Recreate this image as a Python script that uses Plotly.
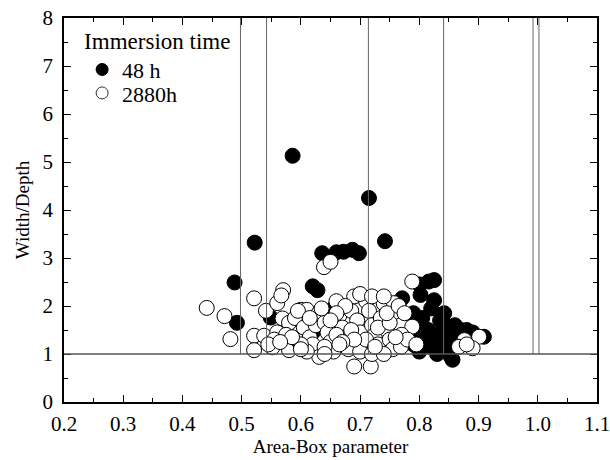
import plotly.graph_objects as go

# 48 h immersion (filled circles)
x_48h = [0.586, 0.715, 0.742, 0.522, 0.488, 0.492, 0.549, 0.620, 0.628,
         0.636, 0.660, 0.672, 0.687, 0.698, 0.655, 0.700, 0.620,
         0.771, 0.800, 0.802, 0.816, 0.825, 0.825, 0.820, 0.842, 0.835,
         0.845, 0.800, 0.790, 0.790, 0.810, 0.820, 0.830, 0.850, 0.860,
         0.870, 0.880, 0.856, 0.853, 0.840, 0.860, 0.870, 0.909, 0.890,
         0.800, 0.780, 0.775, 0.790, 0.815, 0.850, 0.830, 0.805, 0.812]
y_48h = [5.13, 4.25, 3.35, 3.32, 2.49, 1.65, 1.76, 2.41, 2.33,
         3.10, 3.12, 3.13, 3.17, 3.10, 1.95, 1.40, 1.45,
         2.16, 2.45, 2.23, 2.51, 2.54, 2.12, 1.95, 1.85, 1.70,
         1.60, 1.65, 1.40, 1.20, 1.30, 1.15, 1.40, 1.45, 1.60,
         1.50, 1.50, 0.88, 0.95, 1.20, 1.25, 1.40, 1.36, 1.45,
         1.05, 1.25, 1.60, 1.85, 1.50, 1.10, 1.00, 1.75, 1.35]

# 2880 h immersion (open circles)
x_2880h = [0.441, 0.471, 0.481, 0.521, 0.521, 0.521, 0.541, 0.538, 0.552,
           0.560, 0.570, 0.567, 0.569, 0.580, 0.588, 0.594, 0.600, 0.580,
           0.560, 0.555, 0.575, 0.590, 0.610, 0.605, 0.615, 0.620, 0.631,
           0.610, 0.600, 0.625, 0.630, 0.640, 0.645, 0.650, 0.639, 0.650,
           0.660, 0.665, 0.670, 0.675, 0.680, 0.655, 0.685, 0.690, 0.695,
           0.700, 0.705, 0.710, 0.715, 0.720, 0.725, 0.730, 0.735, 0.740,
           0.745, 0.750, 0.755, 0.757, 0.760, 0.769, 0.769, 0.788, 0.788,
           0.690, 0.718, 0.675, 0.700, 0.720, 0.740, 0.660, 0.640, 0.685,
           0.710, 0.730, 0.750, 0.745, 0.770, 0.780, 0.765, 0.700, 0.720,
           0.740, 0.690, 0.660, 0.635, 0.595, 0.585, 0.615, 0.650, 0.670,
           0.725, 0.760, 0.775, 0.795, 0.545, 0.565, 0.600, 0.640, 0.665,
           0.876, 0.901, 0.890, 0.867, 0.880]
y_2880h = [1.96, 1.79, 1.31, 2.16, 1.38, 1.08, 1.90, 1.38, 1.14,
           2.06, 2.33, 2.22, 1.74, 1.08, 1.53, 1.29, 1.92, 1.65,
           1.45, 1.30, 1.40, 1.75, 1.92, 1.55, 1.35, 1.20, 0.94,
           1.05, 1.20, 1.60, 1.85, 1.65, 1.45, 1.25, 2.81, 2.92,
           2.10, 1.80, 1.55, 1.35, 1.10, 1.05, 1.90, 2.20, 1.70,
           1.45, 1.25, 2.10, 1.90, 1.60, 1.40, 1.20, 1.75, 2.05,
           1.50, 1.30, 1.10, 2.06, 1.80, 1.60, 1.15, 1.57, 2.51,
           0.74, 0.74, 2.00, 1.05, 1.00, 1.00, 1.40, 1.15, 1.50,
           1.30, 1.55, 1.65, 1.85, 1.40, 1.30, 2.00, 2.25, 2.20,
           2.20, 1.30, 1.85, 1.95, 1.90, 1.35, 1.75, 1.70, 1.25,
           1.15, 1.35, 1.85, 1.20, 1.20, 1.25, 1.10, 1.00, 1.20,
           1.29, 1.36, 1.12, 1.15, 1.20]

boundaries = [0.498, 0.542, 0.714, 0.841, 0.992, 1.002]
threshold = 1.0

x_ticks = [0.2, 0.3, 0.4, 0.5, 0.6, 0.7, 0.8, 0.9, 1.0, 1.1]
x_tick_labels = ["0.2", "0.3", "0.4", "0.5", "0.6", "0.7", "0.8", "0.9", "1.0", "1.1"]
y_ticks = [0, 1, 2, 3, 4, 5, 6, 7, 8]

FONT = "Liberation Serif, Times New Roman, serif"

fig = go.Figure()

fig.add_trace(go.Scatter(
    x=x_48h, y=y_48h, mode="markers", showlegend=False,
    marker=dict(size=15, color="black", line=dict(color="black", width=1)),
))
fig.add_trace(go.Scatter(
    x=x_2880h, y=y_2880h, mode="markers", showlegend=False,
    marker=dict(size=15, color="white", line=dict(color="black", width=1)),
))
# legend entries
fig.add_trace(go.Scatter(
    x=[None], y=[None], mode="markers", name="48 h", legend="legend",
    marker=dict(size=12, color="black", line=dict(color="black", width=1)),
))
fig.add_trace(go.Scatter(
    x=[None], y=[None], mode="markers", name="2880h", legend="legend2",
    marker=dict(size=12, color="white", line=dict(color="#333", width=1)),
))

for b in boundaries:
    fig.add_shape(type="line", x0=b, x1=b, y0=threshold, y1=8,
                  xref="x", yref="y", line=dict(color="#666", width=1))
fig.add_shape(type="line", x0=0.2, x1=1.1, y0=threshold, y1=threshold,
              xref="x", yref="y", line=dict(color="#555", width=1.5))

axis_common = dict(
    showgrid=False, zeroline=False, showline=True, linecolor="black",
    linewidth=1.5, mirror="allticks", ticks="inside", ticklen=7,
    tickwidth=1, tickcolor="black", automargin=False,
    ticklabeloverflow="allow",
    tickfont=dict(family=FONT, size=21, color="black"),
)

fig.update_xaxes(
    range=[0.2, 1.1], tickvals=x_ticks, ticktext=x_tick_labels,
    minor=dict(ticks="inside", ticklen=4, dtick=0.05, tickcolor="black"),
    title=dict(text="Area-Box parameter", font=dict(family=FONT, size=19, color="black"),
               standoff=0),
    ticklabelstandoff=2,
    **axis_common,
)
fig.update_yaxes(
    range=[0, 8], tickvals=y_ticks,
    minor=dict(ticks="inside", ticklen=4, dtick=0.5, tickcolor="black"),
    title=dict(text="Width/Depth", font=dict(family=FONT, size=19, color="black"),
               standoff=8),
    ticklabelstandoff=5,
    **axis_common,
)

legend_common = dict(
    x=0.034, xanchor="left", yanchor="top",
    bgcolor="rgba(0,0,0,0)", borderwidth=0,
    font=dict(family=FONT, size=22, color="black"),
)

fig.update_layout(
    width=610, height=460,
    margin=dict(l=64, r=13, t=18, b=58),
    plot_bgcolor="white", paper_bgcolor="white",
    font=dict(family=FONT, color="black"),
    legend=dict(
        y=0.998,
        title=dict(text="Immersion time", font=dict(family=FONT, size=23, color="black")),
        **legend_common,
    ),
    legend2=dict(y=0.859, **legend_common),
)

fig.write_html("out.html", config={"displayModeBar": False},
               post_script="document.body.style.margin='0px';")
